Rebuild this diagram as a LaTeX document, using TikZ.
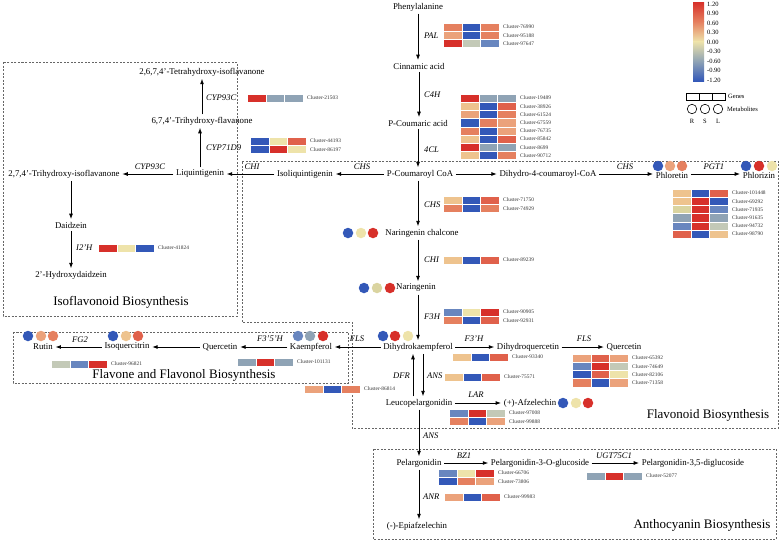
\documentclass[tikz,border=0pt]{standalone}
\usepackage{fontspec}
\setmainfont{Liberation Serif}
\usetikzlibrary{arrows.meta}

% heat-map palette
\definecolor{hR}{HTML}{D7302A}
\definecolor{hB}{HTML}{3358B8}
\definecolor{hY}{HTML}{EEE3AA}
\definecolor{hT}{HTML}{EEC38E}
\definecolor{hL}{HTML}{EBA27B}
\definecolor{hS}{HTML}{E5805F}
\definecolor{hD}{HTML}{E0614B}
\definecolor{hG}{HTML}{8FA3B5}
\definecolor{hN}{HTML}{C3C9B7}
\definecolor{hE}{HTML}{6886BF}
\definecolor{hK}{HTML}{DAD4A0}

\tikzset{
  met/.style={font=\fontsize{8.8}{10}\selectfont, inner sep=2.5pt},
  enz/.style={font=\fontsize{8.6}{10}\selectfont\itshape, inner sep=0pt},
  cl/.style={font=\fontsize{5.4}{6}\selectfont, inner sep=0pt, anchor=west, text=black!80},
  arr/.style={-{Latex[length=5.5pt,width=4pt]}, line width=0.9pt},
  dot/.style={circle, minimum size=10.5pt, inner sep=0pt},
  odot/.style={circle, draw=black, line width=0.6pt, minimum size=9.5pt, inner sep=0pt},
  region/.style={draw=black!60, dash pattern=on 2pt off 1.5pt, line width=0.5pt},
  big/.style={font=\fontsize{13}{15}\selectfont, inner sep=0pt},
  lg/.style={font=\fontsize{6.5}{7}\selectfont, inner sep=0pt},
  cell/.style={draw=white, line width=0.3pt},
}

% one heat-map row: x, y (top), three colours, cluster id
\newcommand\hmrow[6]{%
  \filldraw[cell, fill=#3] (#1,#2) rectangle ++(18.7,8.2);
  \filldraw[cell, fill=#4] (#1+18.7,#2) rectangle ++(18.7,8.2);
  \filldraw[cell, fill=#5] (#1+37.4,#2) rectangle ++(18.7,8.2);
  \node[cl] (c#6) at (#1+60,#2+4.1) {Cluster-#6};}

\begin{document}
\begin{tikzpicture}[x=1pt,y=-1pt]
\useasboundingbox (0,0) rectangle (779,541);

% ---------- pathway regions ----------
\draw[region] (3,62) rectangle (237,316);
\draw[region] (242,161) -- (778,161) -- (778,428) -- (352,428) -- (352,322) -- (242,322) -- cycle;
\draw[region] (13,332) rectangle (348,383);
\draw[region] (373,449) rectangle (776,539);

\node[big] (tIso) at (121,302) {Isoflavonoid Biosynthesis};
\node[big] (tFla) at (184,375) {Flavone and Flavonol Biosynthesis};
\node[big] (tFlv) at (708,415) {Flavonoid Biosynthesis};
\node[big] (tAnt) at (702,525) {Anthocyanin Biosynthesis};

% ---------- metabolites ----------
\node[met] (phe) at (418,7) {Phenylalanine};
\node[met] (cin) at (419,66) {Cinnamic acid};
\node[met] (pca) at (418,123) {P-Coumaric acid};
\node[met] (pcc) at (420,174) {P-Coumaroyl CoA};
\node[met] (iso) at (305,174) {Isoliquintigenin};
\node[met] (liq) at (200,174) {Liquintigenin};
\node[met] (tri) at (64,174) {2,7,4'-Trihydroxy-isoflavanone};
\node[met] (flv) at (202,121) {6,7,4'-Trihydroxy-flavanone};
\node[met] (tet) at (202,72) {2,6,7,4'-Tetrahydroxy-isoflavanone};
\node[met] (dai) at (71,225) {Daidzein};
\node[met] (hyd) at (71,275) {2'-Hydroxydaidzein};
\node[met] (dhc) at (548,174) {Dihydro-4-coumaroyl-CoA};
\node[met] (plt) at (672,175) {Phloretin};
\node[met] (plz) at (759,175) {Phlorizin};
\node[met] (nch) at (422,233) {Naringenin chalcone};
\node[met] (nar) at (416,288) {Naringenin};
\node[met] (dhk) at (418,347) {Dihydrokaempferol};
\node[met] (kae) at (311,347) {Kaempferol};
\node[met] (qu1) at (220,347) {Quercetin};
\node[met] (isq) at (127,347) {Isoquercitrin};
\node[met] (rut) at (43,347) {Rutin};
\node[met] (dhq) at (528,347) {Dihydroquercetin};
\node[met] (qu2) at (624,347) {Quercetin};
\node[met] (leu) at (419,403) {Leucopelargonidin};
\node[met] (afz) at (530,403) {(+)-Afzelechin};
\node[met] (pel) at (419,463) {Pelargonidin};
\node[met] (p3g) at (540,463) {Pelargonidin-3-O-glucoside};
\node[met] (p35) at (693,463) {Pelargonidin-3,5-diglucoside};
\node[met] (epi) at (417,526) {(-)-Epiafzelechin};

% ---------- metabolite level dots (R, S, L) ----------
\node[dot, fill=hB] (m1a) at (658,166) {};
\node[dot, fill=hL] (m1b) at (670,166) {};
\node[dot, fill=hS] (m1c) at (682,166) {};
\node[dot, fill=hB] (m2a) at (746,166) {};
\node[dot, fill=hR] (m2b) at (759,166) {};
\node[dot, fill=hY] (m2c) at (772,166) {};
\node[dot, fill=hB] (m3a) at (348,233) {};
\node[dot, fill=hY] (m3b) at (361,233) {};
\node[dot, fill=hR] (m3c) at (373,233) {};
\node[dot, fill=hB] (m4a) at (364,288) {};
\node[dot, fill=hK] (m4b) at (377,288) {};
\node[dot, fill=hR] (m4c) at (390,288) {};
\node[dot, fill=hB] (m5a) at (383,336) {};
\node[dot, fill=hR] (m5b) at (395,336) {};
\node[dot, fill=hY] (m5c) at (408,336) {};
\node[dot, fill=hE] (m6a) at (298,336) {};
\node[dot, fill=hG] (m6b) at (310,336) {};
\node[dot, fill=hR] (m6c) at (323,336) {};
\node[dot, fill=hB] (m7a) at (113,336) {};
\node[dot, fill=hT] (m7b) at (126,336) {};
\node[dot, fill=hD] (m7c) at (138,336) {};
\node[dot, fill=hB] (m8a) at (28,336) {};
\node[dot, fill=hL] (m8b) at (41,336) {};
\node[dot, fill=hS] (m8c) at (53,336) {};
\node[dot, fill=hB] (m9a) at (563,403) {};
\node[dot, fill=hY] (m9b) at (576,403) {};
\node[dot, fill=hR] (m9c) at (588,403) {};

% ---------- reactions ----------
\draw[arr] (phe.south) -- (phe.south |- cin.north);
\draw[arr] (cin.south) -- (cin.south |- pca.north);
\draw[arr] (pca.south) -- (pca.south |- pcc.north);
\draw[arr] (pcc.west) -- (iso.east);
\draw[arr] (iso.west) -- (liq.east);
\draw[arr] (liq.west) -- (tri.east);
\draw[arr] (liq.north) -- (liq.north |- flv.south);
\draw[arr] (flv.north) -- (flv.north |- tet.south);
\draw[arr] (dai.north |- tri.south) -- (dai.north);
\draw[arr] (dai.south) -- (hyd.north);
\draw[arr] (pcc.east) -- (dhc.west);
\draw[arr] (dhc.east) -- (plt.west |- dhc.east);
\draw[arr] (plt.east |- dhc.east) -- (plz.west |- dhc.east);
\draw[arr] (pcc.south -| 418,0) -- (nch.north -| 418,0);
\draw[arr] (nch.south -| 418,0) -- (nar.north -| 418,0);
\draw[arr] (nar.south -| 418,0) -- (dhk.north -| 418,0);
\draw[arr] (dhk.west) -- (kae.east);
\draw[arr] (kae.west) -- (qu1.east);
\draw[arr] (qu1.west) -- (isq.east);
\draw[arr] (isq.west) -- (rut.east);
\draw[arr] (dhk.east) -- (dhq.west);
\draw[arr] (dhq.east) -- (qu2.west);
\draw[arr] (leu.north -| 413,0) -- (dhk.south -| 413,0);
\draw[arr] (dhk.south -| 423,0) -- (leu.north -| 423,0);
\draw[arr] (leu.east) -- (afz.west);
\draw[arr] (leu.south) -- (pel.north);
\draw[arr] (pel.east) -- (p3g.west);
\draw[arr] (p3g.east) -- (p35.west);
\draw[arr] (pel.south) -- (pel.south |- epi.north);

% ---------- enzymes ----------
\node[enz, anchor=west] (ePAL) at (424,36) {PAL};
\node[enz, anchor=west] (eC4H) at (424,95) {C4H};
\node[enz, anchor=west] (e4CL) at (424,150) {4CL};
\node[enz] (eCHSa) at (362,167) {CHS};
\node[enz] (eCHIa) at (252,167) {CHI};
\node[enz] (eCYPa) at (150,167) {CYP93C};
\node[enz, anchor=west] (eCYPb) at (206,148) {CYP71D9};
\node[enz, anchor=west] (eCYPc) at (206,98) {CYP93C};
\node[enz, anchor=west] (eI2H) at (76,248) {I2'H};
\node[enz] (eCHSb) at (625,167) {CHS};
\node[enz] (ePGT) at (714,167) {PGT1};
\node[enz, anchor=west] (eCHSc) at (424,205) {CHS};
\node[enz, anchor=west] (eCHIb) at (424,260) {CHI};
\node[enz, anchor=west] (eF3H) at (424,317) {F3H};
\node[enz] (eFLSa) at (357,339) {FLS};
\node[enz] (eF35H) at (270,339) {F3'5'H};
\node[enz] (eFG2) at (80,340) {FG2};
\node[enz] (eF3pH) at (474,339) {F3'H};
\node[enz] (eFLSb) at (584,339) {FLS};
\node[enz, anchor=east] (eDFR) at (410,376) {DFR};
\node[enz, anchor=west] (eANSa) at (427,376) {ANS};
\node[enz] (eLAR) at (476,395) {LAR};
\node[enz, anchor=west] (eANSb) at (423,436) {ANS};
\node[enz] (eBZ1) at (464,456) {BZ1};
\node[enz] (eUGT) at (614,456) {UGT75C1};
\node[enz, anchor=west] (eANR) at (423,497) {ANR};

% ---------- gene expression heat maps ----------
\hmrow{443}{23}{hS}{hB}{hS}{76990}
\hmrow{443}{31.2}{hL}{hB}{hS}{95188}
\hmrow{443}{39.4}{hR}{hN}{hE}{97647}

\hmrow{460}{94}{hR}{hG}{hG}{19489}
\hmrow{460}{102.2}{hT}{hB}{hD}{38926}
\hmrow{460}{110.4}{hL}{hB}{hS}{61524}
\hmrow{460}{118.6}{hB}{hS}{hL}{67559}
\hmrow{460}{126.8}{hS}{hB}{hL}{76735}
\hmrow{460}{135}{hT}{hB}{hD}{85842}
\hmrow{460}{143.2}{hR}{hG}{hG}{8699}
\hmrow{460}{151.4}{hT}{hB}{hS}{90712}

\hmrow{247}{94}{hR}{hG}{hG}{21503}
\hmrow{250}{137}{hB}{hY}{hD}{44193}
\hmrow{250}{145.2}{hB}{hR}{hY}{86197}
\hmrow{98}{244}{hR}{hY}{hB}{41824}

\hmrow{672}{189}{hT}{hB}{hD}{101448}
\hmrow{672}{197.2}{hT}{hR}{hB}{69292}
\hmrow{672}{205.4}{hK}{hR}{hE}{71935}
\hmrow{672}{213.6}{hG}{hR}{hG}{91635}
\hmrow{672}{221.8}{hE}{hR}{hN}{94732}
\hmrow{672}{230}{hD}{hB}{hT}{98790}

\hmrow{443}{196}{hT}{hB}{hD}{71750}
\hmrow{443}{204.2}{hS}{hB}{hS}{74929}
\hmrow{443}{256}{hT}{hB}{hD}{89239}
\hmrow{443}{308}{hE}{hY}{hR}{90905}
\hmrow{443}{316.2}{hS}{hB}{hD}{92931}

\hmrow{452}{353}{hT}{hB}{hD}{93340}
\hmrow{572}{354}{hL}{hD}{hL}{65392}
\hmrow{572}{362.2}{hE}{hR}{hN}{74649}
\hmrow{572}{370.4}{hB}{hD}{hY}{82106}
\hmrow{572}{378.6}{hS}{hB}{hL}{71358}
\hmrow{237}{358}{hG}{hR}{hG}{101131}
\hmrow{51}{360}{hN}{hE}{hR}{96821}
\hmrow{304}{385}{hL}{hB}{hS}{86814}
\hmrow{444}{373}{hT}{hB}{hD}{75571}
\hmrow{449}{409}{hE}{hR}{hN}{97008}
\hmrow{449}{417.2}{hS}{hB}{hL}{99888}

\hmrow{438}{469}{hE}{hY}{hR}{66706}
\hmrow{438}{477.2}{hB}{hS}{hL}{73806}
\hmrow{586}{472}{hG}{hR}{hG}{52077}
\hmrow{444}{493}{hL}{hB}{hD}{99983}

% ---------- legend ----------
\shade[top color=hR, bottom color=hS] (693,2) rectangle (704,21.75);
\shade[top color=hS, bottom color=hY] (693,21.75) rectangle (704,41.5);
\shade[top color=hY, bottom color=hG] (693,41.5) rectangle (704,61.25);
\shade[top color=hG, bottom color=hB] (693,61.25) rectangle (704,81);
\foreach \v [count=\i from 0] in {1.20,0.90,0.60,0.30,0.00,-0.30,-0.60,-0.90,-1.20}
  \node[lg, anchor=west] (cb\i) at (707,4+\i*9.5) {\v};
\draw[line width=0.6pt] (686,93) rectangle (725,100) (699,93) -- (699,100) (712,93) -- (712,100);
\node[lg, anchor=west] (lgG) at (728,96.5) {Genes};
\node[odot] (lgR) at (692,109) {};
\node[odot] (lgS) at (705,109) {};
\node[odot] (lgL) at (718,109) {};
\node[lg, anchor=west] (lgM) at (727,109) {Metabolites};
\node[lg] (lgr) at (692,121) {R};
\node[lg] (lgs) at (705,121) {S};
\node[lg] (lgl) at (718,121) {L};
\end{tikzpicture}
\end{document}
